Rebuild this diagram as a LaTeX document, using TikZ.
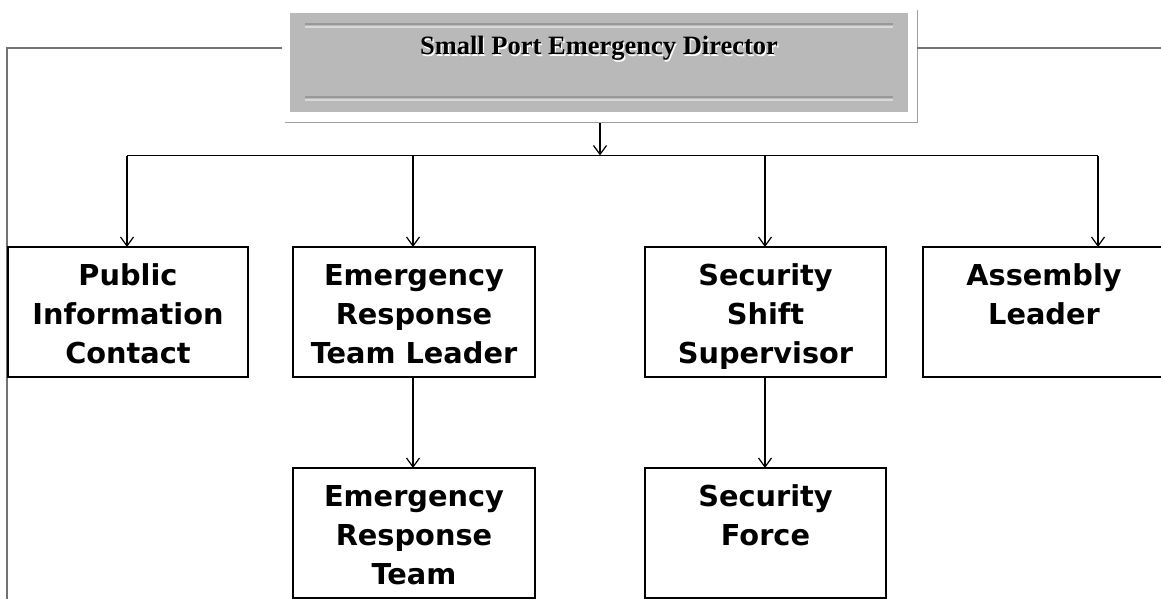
\documentclass[tikz,border=0pt]{standalone}
\usepackage{fontspec}
\newfontfamily\boxfont{DejaVu Sans}
\newfontfamily\titlefont{Liberation Serif}
\usetikzlibrary{arrows.meta}
\tikzset{
 rolebox/.style={draw=black, line width=1.7pt, fill=white, inner sep=0pt, outer sep=0pt},
 conn/.style={line width=1.5pt, draw=black},
 arr/.style={conn, -{Straight Barb[length=9pt,width=13pt,line width=1.2pt]}},
 side/.style={line width=1.3pt, draw=black!55},
 groovedark/.style={draw=gray!80, line width=2.5pt},
 groovelight/.style={draw=gray!30, line width=2pt},
 titletext/.style={inner sep=0pt, anchor=base, font=\titlefont\bfseries\fontsize{26.5}{30}\selectfont},
}
\newcommand{\roletext}[2]{\parbox[c][130pt][t]{#1}{\centering\boxfont\bfseries\fontsize{28.8}{39}\selectfont\rule{0pt}{38.5pt}#2}}
\begin{document}
\begin{tikzpicture}[x=1pt,y=-1pt]
\useasboundingbox (0,0) rectangle (1161,599);
\clip (0,0) rectangle (1161,599);
% director box
\node[fill=gray!55, minimum width=618pt, minimum height=99pt, inner sep=0pt] (dir) at (599,62.5) {};
\draw[groovedark] (305,24) -- (893,24);
\draw[groovelight] (305,27) -- (893,27);
\draw[groovedark] (305,97) -- (893,97);
\draw[groovelight] (305,100) -- (893,100);
\draw[gray!75, line width=1pt] (285,123) -- (917,123) -- (917,10);
\node[titletext, text=white] (titleshadow) at (600.2,56.2) {Small Port Emergency Director};
\node[titletext, text=black] (title) at (599,55) {Small Port Emergency Director};
% side lines
\coordinate (lstart) at (282,48);
\coordinate (lend) at (7,599);
\draw[side] (lstart) -| (lend);
\coordinate (rstart) at (917,48);
\coordinate (rend) at (1161,48);
\draw[side] (rstart) -- (rend);
% role boxes
\node[rolebox] (pic) at (128,312) {\roletext{240pt}{Public\\Information\\Contact}};
\node[rolebox] (erl) at (414,312) {\roletext{242pt}{Emergency\\Response\\Team Leader}};
\node[rolebox] (ssv) at (765.5,312) {\roletext{241pt}{Security\\Shift\\Supervisor}};
\node[rolebox] (asm) at (1044,312) {\roletext{242pt}{Assembly\\Leader}};
\node[rolebox] (ert) at (414,533) {\roletext{242pt}{Emergency\\Response\\Team}};
\node[rolebox] (sfo) at (765.5,533) {\roletext{241pt}{Security\\Force}};
% connectors
\coordinate (dirout) at (600,123);
\coordinate (busM) at (600,155.5);
\draw[arr, line width=2pt] (dirout) -- (busM);
\coordinate (b1) at (127,155.5);
\coordinate (b2) at (413,155.5);
\coordinate (b3) at (765,155.5);
\coordinate (b4) at (1098,155.5);
\draw[conn] (b1) -- (b4);
\draw[arr] (b1) -- (b1 |- pic.north);
\draw[arr] (b2) -- (b2 |- erl.north);
\draw[arr] (b3) -- (b3 |- ssv.north);
\draw[arr] (b4) -- (b4 |- asm.north);
\draw[arr] ([xshift=-1pt]erl.south) -- ([xshift=-1pt]ert.north);
\draw[arr] ([xshift=-0.5pt]ssv.south) -- ([xshift=-0.5pt]sfo.north);
\end{tikzpicture}
\end{document}
